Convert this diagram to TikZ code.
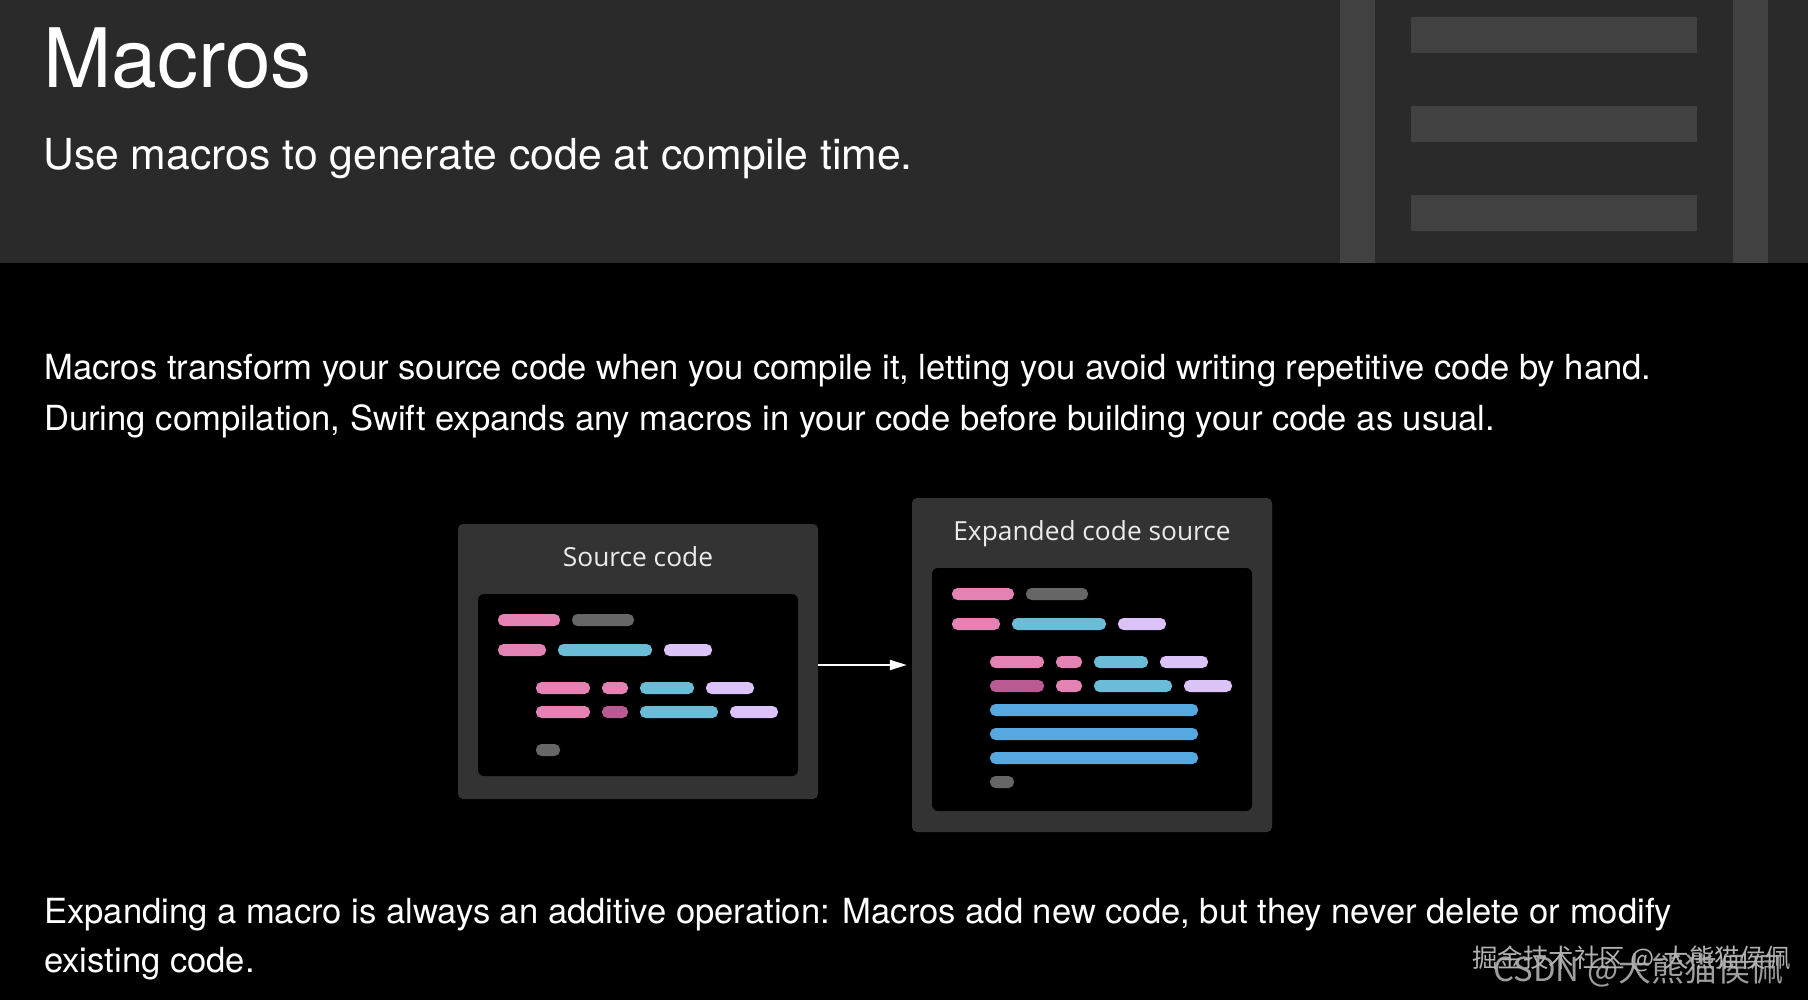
\documentclass[tikz,border=0pt]{standalone}
\usepackage{fontspec}
\setmainfont{TeX Gyre Heros}
\newfontfamily\labelfont{Open Sans}
\newfontfamily\cjkfont{Noto Sans CJK SC}
\usetikzlibrary{arrows.meta}

\definecolor{headgray}{HTML}{2A2A2A}
\definecolor{decogray}{HTML}{414141}
\definecolor{boxgray}{HTML}{333333}
\definecolor{barpink}{HTML}{E483B3}
\definecolor{bargray}{HTML}{666666}
\definecolor{barteal}{HTML}{6BBCD6}
\definecolor{barlav}{HTML}{DCC3F7}
\definecolor{barmag}{HTML}{B95A92}
\definecolor{barblue}{HTML}{55A9E0}

\begin{document}
\begin{tikzpicture}[x=1pt, y=-1pt,
  headtext/.style={anchor=base west, inner sep=0, text=white},
  bodytext/.style={headtext, font=\fontsize{34.6}{40}\selectfont},
  outerbox/.style={fill=boxgray, rounded corners=5pt, minimum width=360pt},
  codepanel/.style={fill=black, rounded corners=6pt, minimum width=320pt},
  boxtitle/.style={anchor=base, inner sep=0, text=white!92!black, font=\labelfont\fontsize{26.3}{30}\selectfont},
  bar/.style={rounded corners=5.5pt},
  flowarrow/.style={draw=white, line width=2pt, shorten >=5pt, -{Triangle[length=17pt,width=10pt]}},
  wmark/.style={anchor=base west, inner sep=0, font=\cjkfont}]
\useasboundingbox (0,0) rectangle (1808,1000);
\fill[black] (0,0) rectangle (1808,1000);
\fill[headgray] (0,0) rectangle (1808,263);

% header decoration
\fill[decogray] (1340,0) rectangle (1375,263);
\fill[decogray] (1733,0) rectangle (1768,263);
\foreach \y in {17,106,195}
  \fill[decogray] (1411,\y) rectangle (1697,{\y+36});

% header text
\node[headtext, font=\fontsize{82}{98}\selectfont] (title) at (43,88) {Macros};
\node[headtext, font=\fontsize{42.7}{50}\selectfont] (subtitle) at (43,170) {Use macros to generate code at compile time.};

\node[bodytext] (intro1) at (44,380) {Macros transform your source code when you compile it, letting you avoid writing repetitive code by hand.};
\node[bodytext] (intro2) at (44,430) {During compilation, Swift expands any macros in your code before building your code as usual.};

% source code box
\node[outerbox, minimum height=275pt] (srcbox) at (638,661.5) {};
\node[boxtitle] (srctitle) at (638,566) {Source code};
\node[codepanel, minimum height=182pt] (srccode) at (638,685) {};
\fill[bar, barpink] (498,614) rectangle (560,626);
\fill[bar, bargray] (572,614) rectangle (634,626);
\fill[bar, barpink] (498,644) rectangle (546,656);
\fill[bar, barteal] (558,644) rectangle (652,656);
\fill[bar, barlav] (664,644) rectangle (712,656);
\fill[bar, barpink] (536,682) rectangle (590,694);
\fill[bar, barpink] (602,682) rectangle (628,694);
\fill[bar, barteal] (640,682) rectangle (694,694);
\fill[bar, barlav] (706,682) rectangle (754,694);
\fill[bar, barpink] (536,706) rectangle (590,718);
\fill[bar, barmag] (602,706) rectangle (628,718);
\fill[bar, barteal] (640,706) rectangle (718,718);
\fill[bar, barlav] (730,706) rectangle (778,718);
\fill[bar, bargray] (536,744) rectangle (560,756);

% expanded code box
\node[outerbox, minimum height=334pt] (expbox) at (1092,665) {};
\node[boxtitle] (exptitle) at (1092,540) {Expanded code source};
\node[codepanel, minimum height=243pt] (expcode) at (1092,689.5) {};
\fill[bar, barpink] (952,588) rectangle (1014,600);
\fill[bar, bargray] (1026,588) rectangle (1088,600);
\fill[bar, barpink] (952,618) rectangle (1000,630);
\fill[bar, barteal] (1012,618) rectangle (1106,630);
\fill[bar, barlav] (1118,618) rectangle (1166,630);
\fill[bar, barpink] (990,656) rectangle (1044,668);
\fill[bar, barpink] (1056,656) rectangle (1082,668);
\fill[bar, barteal] (1094,656) rectangle (1148,668);
\fill[bar, barlav] (1160,656) rectangle (1208,668);
\fill[bar, barmag] (990,680) rectangle (1044,692);
\fill[bar, barpink] (1056,680) rectangle (1082,692);
\fill[bar, barteal] (1094,680) rectangle (1172,692);
\fill[bar, barlav] (1184,680) rectangle (1232,692);
\foreach \y in {710,734,758}
  \fill[bar, barblue] (990,{\y-6}) rectangle (1198,{\y+6});
\fill[bar, bargray] (990,776) rectangle (1014,788);

\draw[flowarrow] ([yshift=-3.5pt]srcbox.east) -- (expbox.west);

\node[bodytext] (outro1) at (44,923) {Expanding a macro is always an additive operation: Macros add new code, but they never delete or modify};
\node[bodytext] (outro2) at (44,972) {existing code.};

% watermarks
\node[wmark, text=white!62!black, font=\cjkfont\fontsize{33}{36}\selectfont] (wmcsdn) at (1493,981) {CSDN @大熊猫侯佩};
\node[wmark, text=white!70!black, font=\cjkfont\fontsize{25.5}{30}\selectfont] (wmjj) at (1472,967) {掘金技术社区 @-大熊猫侯佩};
\end{tikzpicture}
\end{document}
